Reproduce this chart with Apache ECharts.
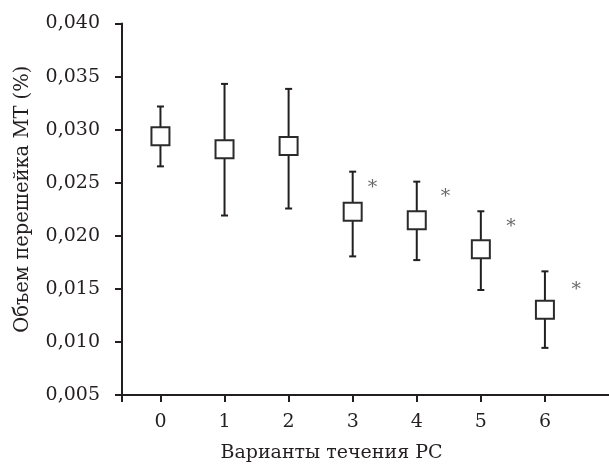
<!DOCTYPE html>
<html>
<head>
<meta charset="utf-8">
<script src="https://cdn.jsdelivr.net/npm/echarts@6/dist/echarts.min.js"></script>
<style>
  html, body { margin: 0; padding: 0; background: #fff; }
  #chart { width: 609px; height: 468px; }
</style>
</head>
<body>
<div id="chart"></div>
<script>
// варианты течения РС
const variants = [0, 1, 2, 3, 4, 5, 6];
const means = [0.02938, 0.02816, 0.02846, 0.02226, 0.02147, 0.01874, 0.01303];
const lows = [0.02654, 0.02191, 0.02257, 0.01806, 0.01771, 0.01489, 0.00944];
const highs = [0.03218, 0.03431, 0.03384, 0.02604, 0.02510, 0.02231, 0.01665];

// значимые отличия (*)
const sigX = [3.31, 4.45, 5.47, 6.49];
const sigY = [0.02498, 0.02410, 0.02132, 0.01533];

const ink = '#231f20';
const font = 'DejaVu Serif';

const chart = echarts.init(document.getElementById('chart'));

const barData = variants.map((v, i) => [v, means[i], lows[i], highs[i]]);
const boxData = variants.map((v, i) => [v, means[i]]);
const sigData = sigX.map((x, i) => [x, sigY[i]]);

const option = {
    animation: false,
    grid: {
        left: 122,
        right: 0,
        top: 23.5,
        bottom: 72
    },
    xAxis: {
        type: 'value',
        min: -0.6,
        max: 7,
        name: 'Варианты течения РС',
        nameLocation: 'middle',
        nameGap: 49,
        nameTextStyle: {
            fontFamily: font,
            fontSize: 19,
            color: ink,
            padding: [0, 68, 0, 0]
        },
        splitLine: {show: false},
        axisLine: {onZero: false, lineStyle: {color: ink, width: 2}},
        axisTick: {
            show: true,
            length: 7,
            lineStyle: {color: ink, width: 2},
            customValues: [-0.6].concat(variants)
        },
        axisLabel: {
            margin: 18,
            fontFamily: font,
            fontSize: 19,
            color: ink,
            customValues: variants
        }
    },
    yAxis: {
        type: 'value',
        min: 0.005,
        max: 0.040,
        interval: 0.005,
        name: 'Объем перешейка МТ (%)',
        nameLocation: 'middle',
        nameGap: 89,
        nameTextStyle: {
            fontFamily: font,
            fontSize: 19.5,
            color: ink,
            padding: [0, 0, 0, 20]
        },
        splitLine: {show: false},
        axisLine: {show: true, onZero: false, lineStyle: {color: ink, width: 2}},
        axisTick: {show: true, length: 7, lineStyle: {color: ink, width: 2}},
        axisLabel: {
            margin: 22,
            fontFamily: font,
            fontSize: 19,
            color: ink,
            formatter: function (v) {
                return v.toFixed(3).replace('.', ',');
            }
        }
    },
    series: [
        {
            type: 'custom',
            data: barData,
            encode: {x: 0, y: [2, 3]},
            renderItem: function (params, api) {
                const x = api.value(0);
                const lo = api.coord([x, api.value(2)]);
                const hi = api.coord([x, api.value(3)]);
                const cap = 3.5;
                const style = {stroke: ink, lineWidth: 2};
                return {
                    type: 'group',
                    children: [
                        {type: 'line', shape: {x1: lo[0], y1: lo[1], x2: hi[0], y2: hi[1]}, style: style},
                        {type: 'line', shape: {x1: lo[0] - cap, y1: lo[1], x2: lo[0] + cap, y2: lo[1]}, style: style},
                        {type: 'line', shape: {x1: hi[0] - cap, y1: hi[1], x2: hi[0] + cap, y2: hi[1]}, style: style}
                    ]
                };
            },
            z: 2
        },
        {
            type: 'scatter',
            data: boxData,
            symbol: 'rect',
            symbolSize: 18,
            itemStyle: {color: '#fff', borderColor: '#2b2b2b', borderWidth: 2, opacity: 1},
            z: 3
        },
        {
            type: 'scatter',
            data: sigData,
            symbolSize: 0,
            label: {
                show: true,
                position: 'inside',
                formatter: '*',
                fontFamily: font,
                fontSize: 19,
                color: '#444',
                offset: [0, 5]
            },
            z: 4
        }
    ]
};

chart.setOption(option);
window.onresize = function () {
    chart.resize();
};
</script>
</body>
</html>
